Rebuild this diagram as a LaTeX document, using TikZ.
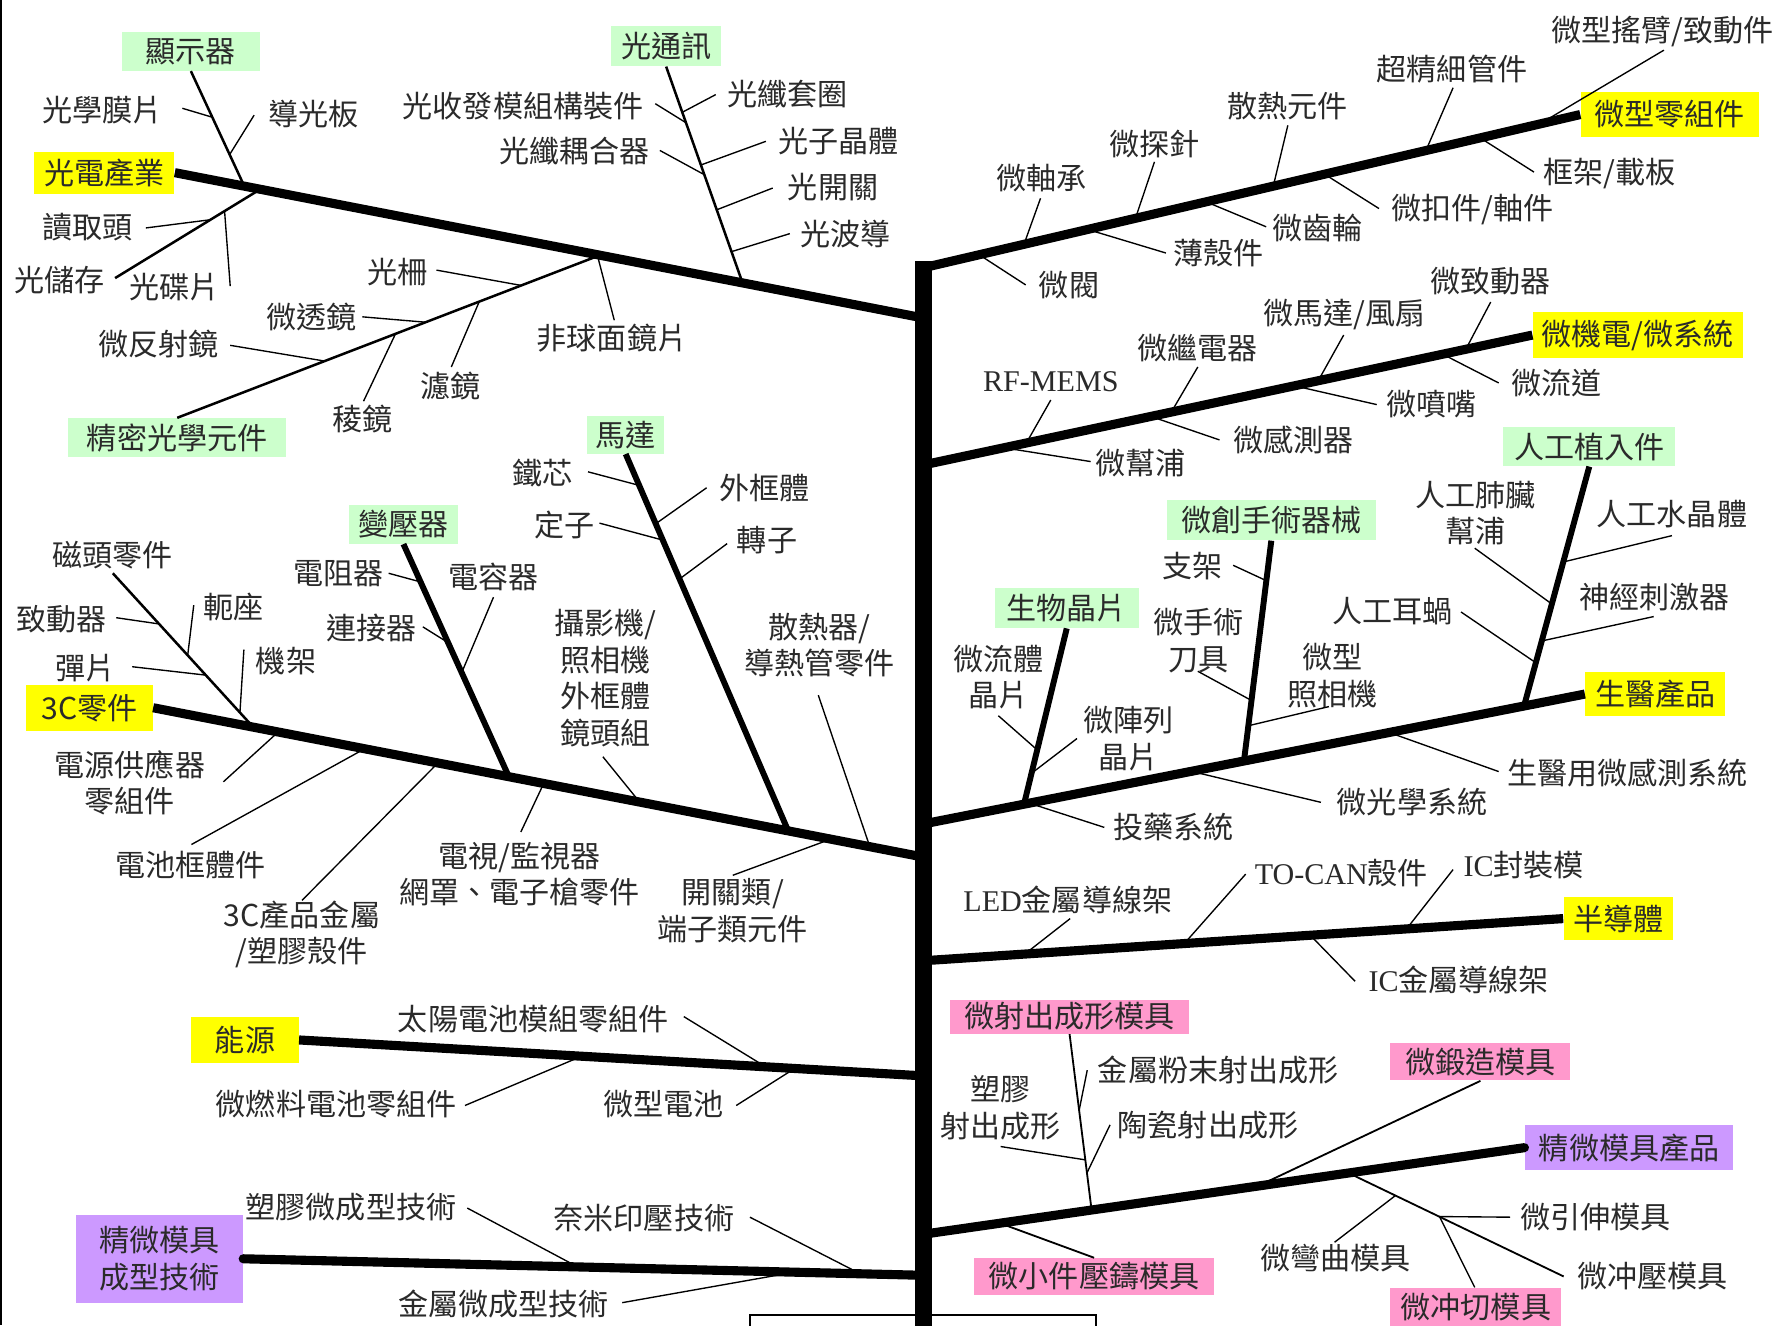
\documentclass[tikz,border=0pt]{standalone}
\usepackage{fontspec}
\setmainfont{Noto Sans CJK TC}
\newfontfamily\lat{Liberation Serif}
\usetikzlibrary{calc}
\definecolor{bxyellow}{HTML}{FFFF00}
\definecolor{bxgreen}{HTML}{CCFFCC}
\definecolor{bxpink}{HTML}{FF99CC}
\definecolor{bxpurple}{HTML}{CC99FF}
\definecolor{txt}{HTML}{2A2A2A}
\newcommand\tkline[5]{%
  \coordinate (#1a) at (#2);
  \coordinate (#1b) at ($(#4)!(#3)!(#5)$);
  \draw[tickline] (#1a) -- (#1b);}
\tikzset{
 lbl/.style={inner sep=0pt, align=center, text=txt, font=\fontsize{13.2}{16}\selectfont},
 bx/.style={lbl},
 trunkline/.style={line width=7.5pt},
 mainline/.style={line width=4pt},
 thickline/.style={line width=2.6pt},
 thinline/.style={line width=1.1pt},
 tickline/.style={line width=0.6pt},
}
\begin{document}
\begin{tikzpicture}[x=0.5pt,y=-0.5pt]
\useasboundingbox (0,0) rectangle (1568,1163);
\clip (0,0) rectangle (1568,1163);
\fill[white] (0,0) rectangle (1568,1163);
\draw[line width=0.8pt] (1,0) -- (1,1163);
% ---------- boxes ----------
\node[bx, fill=bxgreen, minimum width=60.5pt, minimum height=17pt] (xsq) at (167.5,45) {顯示器};
\node[bx, fill=bxyellow, minimum width=61.5pt, minimum height=18.5pt] (gd) at (91.5,151.5) {光電產業};
\node[bx, fill=bxgreen, minimum width=48.5pt, minimum height=17.5pt] (gt) at (584.5,40.5) {光通訊};
\node[bx, fill=bxgreen, minimum width=95.5pt, minimum height=17pt] (jm) at (155.5,384) {精密光學元件};
\node[bx, fill=bxyellow, minimum width=55.5pt, minimum height=20pt] (c3) at (78.5,621) {3C零件};
\node[bx, fill=bxgreen, minimum width=48pt, minimum height=17pt] (byq) at (354,460) {變壓器};
\node[bx, fill=bxgreen, minimum width=34pt, minimum height=16.5pt] (md) at (549,381.5) {馬達};
\node[bx, fill=bxyellow, minimum width=47pt, minimum height=20.5pt] (ny) at (215,912.5) {能源};
\node[bx, fill=bxpurple, minimum width=73pt, minimum height=38.5pt] (jmc) at (140,1104.5) {精微模具\\成型技術};
\node[bx, fill=bxyellow, minimum width=78pt, minimum height=19.5pt] (wx) at (1465,100.5) {微型零組件};
\node[bx, fill=bxyellow, minimum width=92pt, minimum height=20pt] (wjd) at (1437,294) {微機電/微系統};
\node[bx, fill=bxgreen, minimum width=75.5pt, minimum height=17pt] (rg) at (1394.5,392) {人工植入件};
\node[bx, fill=bxgreen, minimum width=91.5pt, minimum height=17.5pt] (wc) at (1115.5,456.5) {微創手術器械};
\node[bx, fill=bxgreen, minimum width=63pt, minimum height=17.5pt] (swjp) at (936,533.5) {生物晶片};
\node[bx, fill=bxyellow, minimum width=61.5pt, minimum height=19pt] (sy) at (1452.5,609) {生醫產品};
\node[bx, fill=bxyellow, minimum width=48pt, minimum height=19pt] (bdt) at (1420,806) {半導體};
\node[bx, fill=bxpink, minimum width=104.5pt, minimum height=15pt] (wsc) at (938.5,892) {微射出成形模具};
\node[bx, fill=bxpink, minimum width=79pt, minimum height=16.5pt] (wdz) at (1299,931.5) {微鍛造模具};
\node[bx, fill=bxpurple, minimum width=91.5pt, minimum height=20pt] (jmp) at (1429.5,1007) {精微模具產品};
\node[bx, fill=bxpink, minimum width=105pt, minimum height=16pt] (wxj) at (960,1120) {微小件壓鑄模具};
\node[bx, fill=bxpink, minimum width=75pt, minimum height=17pt] (wcq) at (1295,1147) {微冲切模具};
% ---------- labels ----------
\node[lbl] (n01) at (90,97) {光學膜片};
\node[lbl] (n02) at (275,100) {導光板};
\node[lbl] (n03) at (77,199) {讀取頭};
\node[lbl] (n04) at (52,246) {光儲存};
\node[lbl] (n05) at (153,252) {光碟片};
\node[lbl] (n06) at (349,239) {光柵};
\node[lbl] (n07) at (273,278) {微透鏡};
\node[lbl] (n08) at (139,302) {微反射鏡};
\node[lbl] (n09) at (395,339) {濾鏡};
\node[lbl] (n10) at (318,368) {稜鏡};
\node[lbl] (n11) at (537,297) {非球面鏡片};
\node[lbl] (n12) at (459,93) {光收發模組構裝件};
\node[lbl] (n13) at (691,83) {光纖套圈};
\node[lbl] (n14) at (504,133) {光纖耦合器};
\node[lbl] (n15) at (736,124) {光子晶體};
\node[lbl] (n16) at (731,164) {光開關};
\node[lbl] (n17) at (742,205) {光波導};
\node[lbl] (n18) at (99,487) {磁頭零件};
\node[lbl] (n19) at (54,543) {致動器};
\node[lbl] (n20) at (205,533) {軛座};
\node[lbl] (n21) at (75,586) {彈片};
\node[lbl] (n22) at (251,580) {機架};
\node[lbl] (n23) at (114,687) {電源供應器\\零組件};
\node[lbl] (n24) at (167,759) {電池框體件};
\node[lbl] (n25) at (265,820) {3C產品金屬\\/塑膠殼件};
\node[lbl] (n26) at (297,503) {電阻器};
\node[lbl] (n27) at (433,506) {電容器};
\node[lbl] (n28) at (326,551) {連接器};
\node[lbl] (n29) at (456,767) {電視/監視器\\網罩、電子槍零件};
\node[lbl] (n30) at (476,415) {鐵芯};
\node[lbl] (n31) at (671,428) {外框體};
\node[lbl] (n32) at (495,461) {定子};
\node[lbl] (n33) at (673,474) {轉子};
\node[lbl] (n34) at (531,595) {攝影機/\\照相機\\外框體\\鏡頭組};
\node[lbl] (n35) at (719,566) {散熱器/\\導熱管零件};
\node[lbl] (n36) at (643,799) {開關類/\\端子類元件};
\node[lbl] (n37) at (468,894) {太陽電池模組零組件};
\node[lbl] (n38) at (295,969) {微燃料電池零組件};
\node[lbl] (n39) at (582,969) {微型電池};
\node[lbl] (n40) at (308,1059) {塑膠微成型技術};
\node[lbl] (n41) at (565,1069) {奈米印壓技術};
\node[lbl] (n42) at (442,1144) {金屬微成型技術};
\node[lbl] (n43) at (1459,28) {微型搖臂/致動件};
\node[lbl] (n44) at (1274,61) {超精細管件};
\node[lbl] (n45) at (1130,93) {散熱元件};
\node[lbl] (n46) at (1412,152) {框架/載板};
\node[lbl] (n47) at (1292,184) {微扣件/軸件};
\node[lbl] (n48) at (1156,200) {微齒輪};
\node[lbl] (n49) at (1069,222) {薄殼件};
\node[lbl] (n50) at (1013,126) {微探針};
\node[lbl] (n51) at (914,156) {微軸承};
\node[lbl] (n52) at (938,250) {微閥};
\node[lbl] (n53) at (922,335) {\lat RF-MEMS};
\node[lbl] (n54) at (1051,305) {微繼電器};
\node[lbl] (n55) at (1180,276) {微馬達/風扇};
\node[lbl] (n56) at (1308,247) {微致動器};
\node[lbl] (n57) at (1366,336) {微流道};
\node[lbl] (n58) at (1256,355) {微噴嘴};
\node[lbl] (n59) at (1135,386) {微感測器};
\node[lbl] (n60) at (1001,406) {微幫浦};
\node[lbl] (n61) at (876,594) {微流體\\晶片};
\node[lbl] (n62) at (990,648) {微陣列\\晶片};
\node[lbl] (n63) at (1046,497) {支架};
\node[lbl] (n64) at (1052,562) {微手術\\刀具};
\node[lbl] (n65) at (1169,593) {微型\\照相機};
\node[lbl] (n66) at (1295,450) {人工肺臟\\幫浦};
\node[lbl] (n67) at (1467,451) {人工水晶體};
\node[lbl] (n68) at (1452,524) {神經刺激器};
\node[lbl] (n69) at (1222,536) {人工耳蝸};
\node[lbl] (n70) at (1428,678) {生醫用微感測系統};
\node[lbl] (n71) at (1239,704) {微光學系統};
\node[lbl] (n72) at (1030,726) {投藥系統};
\node[lbl] (n73) at (937,790) {{\lat LED}金屬導線架};
\node[lbl] (n74) at (1177,766) {{\lat TO-CAN}殼件};
\node[lbl] (n75) at (1337,759) {{\lat IC}封裝模};
\node[lbl] (n76) at (1280,860) {{\lat IC}金屬導線架};
\node[lbl] (n77) at (1069,939) {金屬粉末射出成形};
\node[lbl] (n78) at (878,972) {塑膠\\射出成形};
\node[lbl] (n79) at (1060,987) {陶瓷射出成形};
\node[lbl] (n80) at (1400,1068) {微引伸模具};
\node[lbl] (n81) at (1450,1120) {微冲壓模具};
\node[lbl] (n82) at (1172,1104) {微彎曲模具};
% ---------- main branch coordinates ----------
\coordinate (L1s) at (gd.east);  \coordinate (L1e) at (810,279);
\coordinate (L2s) at (c3.east);  \coordinate (L2e) at (810,752);
\coordinate (L3s) at (ny.east);  \coordinate (L3e) at (810,944);
\coordinate (L4s) at (jmc.east); \coordinate (L4e) at (810,1119);
\coordinate (R1s) at (810,235);  \coordinate (R1e) at (wx.west);
\coordinate (R2s) at (810,408);  \coordinate (R2e) at (wjd.west);
\coordinate (R3s) at (810,723);  \coordinate (R3e) at (sy.west);
\coordinate (R4s) at (810,843);  \coordinate (R4e) at (bdt.west);
\coordinate (R5s) at (810,1083); \coordinate (R5e) at (jmp.west);
\coordinate (Ttop) at (810,229); \coordinate (Tbot) at (810,1175);
% ---------- sub-branch coordinates ----------
\coordinate (S1s) at (xsq.south); \coordinate (S1e) at ($(L1s)!(215,160)!(L1e)$);
\coordinate (S2s) at (101,244);   \coordinate (S2e) at ($(L1s)!(227,173)!(L1e)$);
\coordinate (S3s) at (jm.north);  \coordinate (S3e) at ($(L1s)!(525,231)!(L1e)$);
\coordinate (S4s) at (gt.south);  \coordinate (S4e) at ($(L1s)!(652,246)!(L1e)$);
\coordinate (S5s) at (99,503);    \coordinate (S5e) at ($(L2s)!(223,634)!(L2e)$);
\coordinate (S6s) at (byq.south); \coordinate (S6e) at ($(L2s)!(447,679)!(L2e)$);
\coordinate (S7s) at (md.south);  \coordinate (S7e) at ($(L2s)!(692,727)!(L2e)$);
\coordinate (S8s) at (swjp.south); \coordinate (S8e) at ($(R3s)!(898,703)!(R3e)$);
\coordinate (S9s) at (wc.south);  \coordinate (S9e) at ($(R3s)!(1091,665)!(R3e)$);
\coordinate (S10s) at (rg.south); \coordinate (S10e) at ($(R3s)!(1337,618)!(R3e)$);
\coordinate (S11s) at (wsc.south); \coordinate (S11e) at ($(R5s)!(957,1056)!(R5e)$);
\coordinate (S12s) at (wdz.south); \coordinate (S12e) at ($(R5s)!(1103,1035)!(R5e)$);
\coordinate (S13s) at (wxj.north); \coordinate (S13e) at ($(R5s)!(878,1077)!(R5e)$);
\coordinate (S14s) at ($(R5s)!(1184,1034)!(R5e)$); \coordinate (S14e) at (1372,1120);
% ---------- ticks ----------
\tkline{k01}{160,95}{186,103}{S1s}{S1e}
\tkline{k02}{223,101}{205,134}{S1s}{S1e}
\tkline{k03}{128,200}{186,195}{S2s}{S2e}
\tkline{k04}{202,251}{200,190}{S2s}{S2e}
\tkline{k05}{383,237}{458,252}{S3s}{S3e}
\tkline{k06}{318,278}{374,284}{S3s}{S3e}
\tkline{k07}{202,303}{285,317}{S3s}{S3e}
\tkline{k08}{396,322}{423,271}{S3s}{S3e}
\tkline{k09}{319,352}{349,298}{S3s}{S3e}
\tkline{k10}{539,281}{522,234}{L1s}{L1e}
\tkline{k11}{575,91}{601,108}{S4s}{S4e}
\tkline{k12}{628,83}{603,97}{S4s}{S4e}
\tkline{k13}{579,132}{616,154}{S4s}{S4e}
\tkline{k14}{672,124}{620,143}{S4s}{S4e}
\tkline{k15}{678,165}{632,183}{S4s}{S4e}
\tkline{k16}{693,205}{647,219}{S4s}{S4e}
\tkline{k17}{102,542}{139,548}{S5s}{S5e}
\tkline{k18}{170,531}{168,572}{S5s}{S5e}
\tkline{k19}{116,585}{181,592}{S5s}{S5e}
\tkline{k20}{214,570}{213,623}{S5s}{S5e}
\tkline{k21}{196,686}{243,648}{L2s}{L2e}
\tkline{k22}{168,741}{319,662}{L2s}{L2e}
\tkline{k23}{265,790}{383,676}{L2s}{L2e}
\tkline{k24}{457,730}{476,693}{L2s}{L2e}
\tkline{k25}{529,664}{562,700}{L2s}{L2e}
\tkline{k26}{718,610}{764,739}{L2s}{L2e}
\tkline{k27}{643,768}{728,741}{L2s}{L2e}
\tkline{k28}{341,503}{366,512}{S6s}{S6e}
\tkline{k29}{433,524}{410,588}{S6s}{S6e}
\tkline{k30}{371,550}{393,564}{S6s}{S6e}
\tkline{k31}{516,414}{556,428}{S7s}{S7e}
\tkline{k32}{620,428}{579,458}{S7s}{S7e}
\tkline{k33}{526,459}{579,475}{S7s}{S7e}
\tkline{k34}{638,477}{601,506}{S7s}{S7e}
\tkline{k35}{600,892}{672,933}{L3s}{L3e}
\tkline{k36}{408,970}{510,933}{L3s}{L3e}
\tkline{k37}{646,970}{697,943}{L3s}{L3e}
\tkline{k38}{410,1060}{507,1108}{L4s}{L4e}
\tkline{k39}{658,1068}{755,1114}{L4s}{L4e}
\tkline{k40}{546,1143}{697,1121}{L4s}{L4e}
\tkline{k41}{1460,44}{1350,105}{R1s}{R1e}
\tkline{k42}{1275,77}{1250,127}{R1s}{R1e}
\tkline{k43}{1130,110}{1116,158}{R1s}{R1e}
\tkline{k44}{1346,151}{1300,126}{R1s}{R1e}
\tkline{k45}{1210,183}{1163,156}{R1s}{R1e}
\tkline{k46}{1111,199}{1059,180}{R1s}{R1e}
\tkline{k47}{1023,222}{955,204}{R1s}{R1e}
\tkline{k48}{1013,142}{995,186}{R1s}{R1e}
\tkline{k49}{913,174}{897,208}{R1s}{R1e}
\tkline{k50}{900,250}{860,227}{R1s}{R1e}
\tkline{k51}{922,351}{900,386}{R2s}{R2e}
\tkline{k52}{1051,322}{1027,358}{R2s}{R2e}
\tkline{k53}{1179,294}{1156,331}{R2s}{R2e}
\tkline{k54}{1308,265}{1285,301}{R2s}{R2e}
\tkline{k55}{1315,336}{1267,316}{R2s}{R2e}
\tkline{k56}{1208,355}{1137,344}{R2s}{R2e}
\tkline{k57}{1070,386}{1011,371}{R2s}{R2e}
\tkline{k58}{957,405}{882,398}{R2s}{R2e}
\tkline{k59}{876,628}{906,657}{S8s}{S8e}
\tkline{k60}{945,648}{907,679}{S8s}{S8e}
\tkline{k61}{1082,496}{1107,509}{S9s}{S9e}
\tkline{k62}{1051,589}{1093,614}{S9s}{S9e}
\tkline{k63}{1166,620}{1097,637}{S9s}{S9e}
\tkline{k64}{1294,481}{1358,529}{S10s}{S10e}
\tkline{k65}{1467,470}{1375,494}{S10s}{S10e}
\tkline{k66}{1451,541}{1355,563}{S10s}{S10e}
\tkline{k67}{1282,537}{1342,580}{S10s}{S10e}
\tkline{k68}{1315,677}{1220,648}{R3s}{R3e}
\tkline{k69}{1159,704}{1046,680}{R3s}{R3e}
\tkline{k70}{969,726}{904,709}{R3s}{R3e}
\tkline{k71}{939,806}{899,834}{R4s}{R4e}
\tkline{k72}{1093,767}{1039,825}{R4s}{R4e}
\tkline{k73}{1275,763}{1234,812}{R4s}{R4e}
\tkline{k74}{1189,861}{1150,825}{R4s}{R4e}
\tkline{k75}{954,939}{949,974}{S11s}{S11e}
\tkline{k76}{878,1006}{950,1018}{S11s}{S11e}
\tkline{k77}{974,987}{955,1029}{S11s}{S11e}
\tkline{k78}{1325,1068}{1262,1069}{S14s}{S14e}
\tkline{k79}{1171,1090}{1223,1052}{S14s}{S14e}
\coordinate (k80a) at ($(S14s)!(1262,1070)!(S14e)$);
\draw[tickline] (k80a) -- (wcq.north -| 1294,0);
% ---------- sub-branches ----------
\draw[thinline] (S1s) -- (S1e);
\draw[thinline] (S2s) -- (S2e);
\draw[thinline] (S3s) -- (S3e);
\draw[thinline] (S4s) -- (S4e);
\draw[thinline] (S5s) -- (S5e);
\draw[thickline] (S6s) -- (S6e);
\draw[thickline] (S7s) -- (S7e);
\draw[thickline] (S8s) -- (S8e);
\draw[thickline] (S9s) -- (S9e);
\draw[thickline] (S10s) -- (S10e);
\draw[tickline, line width=0.8pt] (S11s) -- (S11e);
\draw[tickline, line width=0.8pt] (S12s) -- (S12e);
\draw[tickline, line width=0.8pt] (S13s) -- (S13e);
\draw[tickline, line width=0.8pt] (S14s) -- (S14e);
% ---------- main branches ----------
\draw[mainline] (L1s) -- (L1e);
\draw[mainline] (L2s) -- (L2e);
\draw[mainline] (L3s) -- (L3e);
\draw[mainline, line cap=round] (L4s) -- (L4e);
\draw[mainline] (R1s) -- (R1e);
\draw[mainline] (R2s) -- (R2e);
\draw[mainline] (R3s) -- (R3e);
\draw[mainline] (R4s) -- (R4e);
\draw[mainline, line cap=round] (R5s) -- (R5e);
% ---------- trunk ----------
\draw[line width=0.8pt] (658,1154) rectangle (962,1200);
\draw[trunkline] (Ttop) -- (Tbot);
\end{tikzpicture}
\end{document}
